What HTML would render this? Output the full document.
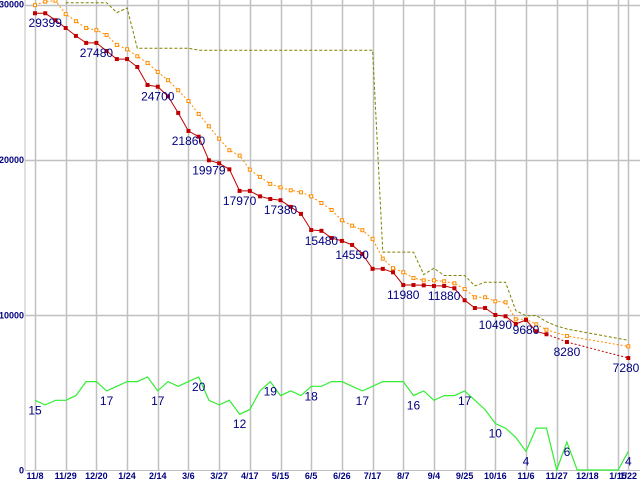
<!DOCTYPE html>
<html><head><meta charset="utf-8"><style>
html,body{margin:0;padding:0;background:#fff;}
svg{display:block;font-family:"Liberation Sans",sans-serif;}
</style></head><body>
<svg id="chart" width="640" height="480" viewBox="0 0 640 480" xmlns="http://www.w3.org/2000/svg"></svg>
<script>
const xTickLabels=["11/8","11/29","12/20","1/24","2/14","3/6","3/27","4/17","5/15","6/5","6/26","7/17","8/7","9/4","9/25","10/16","11/6","11/27","12/18","1/15","1/22"];
const xTickIndex=[0,3,6,9,12,15,18,21,24,27,30,33,36,39,42,45,48,51,54,57,58];
const yTickValues=[0,10000,20000,30000];
const priceMin=[29450,29450,29000,28500,27990,27540,27540,27020,26500,26500,25990,24830,24720,24100,23030,21870,21500,19980,19790,19400,18010,18010,17660,17490,17410,16980,16530,15490,15440,14980,14790,14530,13950,12990,12990,12770,11950,11950,11930,11890,11890,11740,10970,10470,10470,10020,9940,9440,9700,8970,8780,null,8280,null,null,null,null,null,7250];
const priceAvg=[29970,30200,30260,29390,28940,28500,28360,28050,27410,27130,26680,26250,25670,25140,24490,23800,22960,22170,21370,20630,20280,19380,18910,18460,18240,18050,17920,17660,17230,16780,16120,15770,15480,14920,13650,13030,12770,12400,12250,12250,12190,12060,11690,11160,11160,10900,10840,9740,9740,9420,9070,null,8670,null,null,null,null,null,8000];
const priceMax=[null,null,null,30130,30130,30130,30130,30130,29490,29790,27200,27200,27200,27200,27200,27200,27070,27070,27070,27070,27070,27070,27070,27070,27070,27070,27070,27070,27070,27070,27070,27070,27070,27070,14070,14070,14070,14070,12620,13030,12560,12560,12560,11900,12130,12130,12130,10300,9970,9990,9590,9310,9120,null,null,null,null,null,8390];
const shopCount=[15,14,15,15,16,19,19,17,18,19,19,20,17,19,18,19,20,15,14,15,12,13,17,19,16,17,16,18,18,19,19,18,17,18,19,19,19,16,17,15,16,16,17,15,13,10,9,7,4,9,9,0,6,0,0,0,0,0,4];
const priceLabelIdx=[1,6,12,15,17,20,24,28,31,36,40,45,48,52,58];
const priceLabelText=["29399","27480","24700","21860","19979","17970","17380","15480","14550","11980","11880","10490","9680","8280","7280"];
const countLabelIdx=[0,7,12,16,20,23,27,32,37,42,45,48,52,58];

const svg=document.getElementById('chart');
const NS='http://www.w3.org/2000/svg';
const X0=35,X1=628.3,N=priceMin.length;
function xs(i){return X0+(X1-X0)*i/(N-1);}
function ys(v){return 470.6-v*155.3/10000;}
function yc(c){return 470-c*4.65;}
function mk(tag,attrs,parent){const e=document.createElementNS(NS,tag);for(const k in attrs)e.setAttribute(k,attrs[k]);(parent||svg).appendChild(e);return e;}

const grid=mk('g',{});


mk('line',{x1:25,y1:0,x2:25,y2:470,stroke:'#c0c0c0'},grid);
mk('line',{x1:25,y1:470.5,x2:640,y2:470.5,stroke:'#c0c0c0'},grid);
xTickIndex.forEach((ix,k)=>{
  const x=Math.round(xs(ix))+0.5;
  mk('line',{x1:x,y1:0,x2:x,y2:470,stroke:'#c0c0c0','stroke-width':1.5},grid);
  const t=mk('text',{x:xs(ix),y:479,'text-anchor':'middle','font-size':9,'font-weight':'bold',fill:'#000080'});
  t.textContent=xTickLabels[k];
  
  
});
yTickValues.forEach(v=>{
  const y=Math.round(ys(v))+0.5;
  if(v>0)mk('line',{x1:25,y1:y,x2:640,y2:y,stroke:'#c0c0c0','stroke-width':1.5},grid);
  const t=mk('text',{x:24,y:ys(v)+3,'text-anchor':'end','font-size':9,'font-weight':'bold',fill:'#000080'});
  t.textContent=String(v);
  
  
});

function segs(arr,fy){
  const pts=[];arr.forEach((v,i)=>{if(v!==null)pts.push([xs(i),fy(v),i]);});
  return pts;
}
function pathOf(p){return p.map((q,k)=>(k?'L':'M')+q[0].toFixed(1)+','+q[1].toFixed(1)).join('');}

const pMax=segs(priceMax,ys);
const lm=mk('path',{d:pathOf(pMax),fill:'none',stroke:'#808000','stroke-width':1,'stroke-dasharray':'3,2'});



const pAvg=segs(priceAvg,ys);
const la=mk('path',{d:pathOf(pAvg),fill:'none',stroke:'#ff8c00','stroke-width':1,'stroke-dasharray':'2,2'});


pAvg.forEach(p=>{
  const r=mk('rect',{x:p[0]-1.5,y:p[1]-1.5,width:3,height:3,fill:'#fff',stroke:'#ff8c00','stroke-width':1});
  
  
});

const pMin=segs(priceMin,ys);
let solid=[],dotted=[];
for(let k=1;k<pMin.length;k++){
  const a=pMin[k-1],b=pMin[k];
  const s='M'+a[0].toFixed(1)+','+a[1].toFixed(1)+'L'+b[0].toFixed(1)+','+b[1].toFixed(1);
  if(b[2]-a[2]===1)solid.push(s);else dotted.push(s);
}
const lr=mk('path',{d:solid.join(''),fill:'none',stroke:'#c00000','stroke-width':1});


const lr2=mk('path',{d:dotted.join(''),fill:'none',stroke:'#c00000','stroke-width':1,'stroke-dasharray':'2,2'});


pMin.forEach(p=>{
  const r=mk('rect',{x:p[0]-2,y:p[1]-2,width:4,height:4,fill:'#c00000'});
  
  
});

const pC=segs(shopCount,yc);
const lg=mk('path',{d:pathOf(pC),fill:'none',stroke:'#33ee33','stroke-width':1.2});



function clampX(x,txt){const w=txt.length*7;return Math.min(Math.max(x,w/2),640-w/2);}
priceLabelIdx.forEach((ix,k)=>{
  const t=mk('text',{x:clampX(xs(ix),priceLabelText[k]),y:ys(priceMin[ix])+14,'text-anchor':'middle','font-size':12,fill:'#000080'});
  t.textContent=priceLabelText[k];
  
  
});
countLabelIdx.forEach(ix=>{
  const s=String(shopCount[ix]);
  const t=mk('text',{x:clampX(xs(ix),s),y:yc(shopCount[ix])+14,'text-anchor':'middle','font-size':12,fill:'#000080'});
  t.textContent=s;
  
  
});
</script>
</body></html>
